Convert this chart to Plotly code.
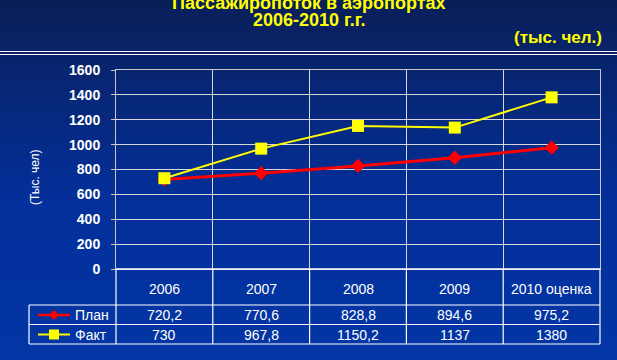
import plotly.graph_objects as go

categories = ["2006", "2007", "2008", "2009", "2010 оценка"]
plan = [720.2, 770.6, 828.8, 894.6, 975.2]
fact = [730, 967.8, 1150.2, 1137, 1380]
plan_labels = ["720,2", "770,6", "828,8", "894,6", "975,2"]
fact_labels = ["730", "967,8", "1150,2", "1137", "1380"]
series_names = ["План", "Факт"]
y_ticks = [0, 200, 400, 600, 800, 1000, 1200, 1400, 1600]

W, H = 617, 360
L, R, T, B = 116, 17, 70, 91
PW = W - L - R
PH = H - T - B


def px(X):
    return (X - L) / PW


def py(Y):
    return (H - B - Y) / PH


FONT = "Liberation Sans, Arial, sans-serif"
n = len(categories)
xs = [i + 0.5 for i in range(n)]

fig = go.Figure()
fig.add_trace(go.Scatter(x=xs, y=plan, mode="lines+markers", name=series_names[0],
                         line=dict(color="#ff0000", width=3),
                         marker=dict(symbol="diamond", size=11, color="#ff0000"),
                         cliponaxis=False, showlegend=False))
fig.add_trace(go.Scatter(x=xs, y=fact, mode="lines+markers", name=series_names[1],
                         line=dict(color="#ffff00", width=2),
                         marker=dict(symbol="square", size=12, color="#ffff00"),
                         cliponaxis=False, showlegend=False))

shapes = []
# background gradient
top = (10, 31, 88)
mid = (4, 48, 154)
bot = (3, 54, 166)
nb = 72
for k in range(nb):
    y0 = k * H / nb
    y1 = (k + 1) * H / nb + 0.5
    t = (k + 0.5) / nb
    if t < 0.55:
        f = t / 0.55
        c = tuple(int(top[j] + (mid[j] - top[j]) * f) for j in range(3))
    else:
        f = (t - 0.55) / 0.45
        c = tuple(int(mid[j] + (bot[j] - mid[j]) * f) for j in range(3))
    shapes.append(dict(type="rect", xref="paper", yref="paper", layer="below",
                       x0=px(0), x1=px(W), y0=py(y1), y1=py(y0),
                       line=dict(width=0), fillcolor="rgb(%d,%d,%d)" % c))

# double line under title
for Y in (51.5, 54.5):
    shapes.append(dict(type="line", xref="paper", yref="paper", x0=px(0), x1=px(W),
                       y0=py(Y), y1=py(Y), line=dict(color="white", width=1.2)))

# bottom axis line (white)
shapes.append(dict(type="line", xref="paper", yref="paper", x0=0, x1=1, y0=0, y1=0,
                   line=dict(color="white", width=1.5)))

# table
row_top, row_mid, row_bot = 305, 324.5, 344
leg_left = 29
for i in range(n + 1):
    shapes.append(dict(type="line", xref="paper", yref="paper", x0=i / n, x1=i / n,
                       y0=0, y1=py(row_bot), line=dict(color="white", width=1.2)))
shapes.append(dict(type="line", xref="paper", yref="paper", x0=px(leg_left), x1=px(leg_left),
                   y0=py(row_top), y1=py(row_bot), line=dict(color="white", width=1.2)))
for Y in (row_top, row_mid, row_bot):
    shapes.append(dict(type="line", xref="paper", yref="paper", x0=px(leg_left), x1=1,
                       y0=py(Y), y1=py(Y), line=dict(color="white", width=1.2)))

# legend keys
key_x0, key_x1, key_cx = 38, 70, 54
for Yc, col in ((315, "#ff0000"), (334.5, "#ffff00")):
    shapes.append(dict(type="line", xref="paper", yref="paper", x0=px(key_x0), x1=px(key_x1),
                       y0=py(Yc), y1=py(Yc), line=dict(color=col, width=2.5 if col == "#ff0000" else 2)))
d = 5
shapes.append(dict(type="path", xref="paper", yref="paper",
                   path="M %f %f L %f %f L %f %f L %f %f Z" % (
                       px(key_cx - d), py(315), px(key_cx), py(315 - d),
                       px(key_cx + d), py(315), px(key_cx), py(315 + d)),
                   fillcolor="#ff0000", line=dict(color="#ff0000", width=0)))
s = 5
shapes.append(dict(type="rect", xref="paper", yref="paper",
                   x0=px(key_cx - s), x1=px(key_cx + s), y0=py(334.5 + s), y1=py(334.5 - s),
                   fillcolor="#ffff00", line=dict(width=0)))

annotations = []
annotations.append(dict(text="<b>Пассажиропоток в аэропортах</b>", xref="paper", yref="paper",
                        x=px(309), y=py(3), showarrow=False, xanchor="center", yanchor="middle",
                        font=dict(family=FONT, size=18, color="#ffff00")))
annotations.append(dict(text="<b>2006-2010 г.г.</b>", xref="paper", yref="paper",
                        x=px(309), y=py(19.5), showarrow=False, xanchor="center", yanchor="middle",
                        font=dict(family=FONT, size=18, color="#ffff00")))
annotations.append(dict(text="<b>(тыс. чел.)</b>", xref="paper", yref="paper",
                        x=px(604), y=py(37.5), showarrow=False, xanchor="right", yanchor="middle",
                        font=dict(family=FONT, size=17, color="#ffff00")))
annotations.append(dict(text="(Тыс. чел)", xref="paper", yref="paper", textangle=-90,
                        x=px(35), y=py(177), showarrow=False, xanchor="center", yanchor="middle",
                        font=dict(family=FONT, size=12, color="white")))

for i, c in enumerate(categories):
    annotations.append(dict(text=c, xref="x", yref="paper", x=xs[i], y=py(288.5),
                            showarrow=False, xanchor="center", yanchor="middle",
                            font=dict(family=FONT, size=14, color="white")))
    annotations.append(dict(text=plan_labels[i], xref="x", yref="paper", x=xs[i], y=py(315),
                            showarrow=False, xanchor="center", yanchor="middle",
                            font=dict(family=FONT, size=14, color="white")))
    annotations.append(dict(text=fact_labels[i], xref="x", yref="paper", x=xs[i], y=py(334.5),
                            showarrow=False, xanchor="center", yanchor="middle",
                            font=dict(family=FONT, size=14, color="white")))
for nm, Yc in zip(series_names, (315, 334.5)):
    annotations.append(dict(text=nm, xref="paper", yref="paper", x=px(73), y=py(Yc),
                            showarrow=False, xanchor="left", yanchor="middle",
                            font=dict(family=FONT, size=14, color="white")))

fig.update_layout(
    width=W, height=H,
    margin=dict(l=L, r=R, t=T, b=B, pad=0),
    paper_bgcolor="rgb(4,44,140)",
    plot_bgcolor="rgba(0,0,0,0)",
    shapes=shapes,
    annotations=annotations,
    showlegend=False,
    xaxis=dict(range=[0, n], tickvals=list(range(n + 1)), showticklabels=False,
               showgrid=True, gridcolor="#d8d8d8", gridwidth=1, zeroline=False,
               showline=True, mirror=True, linecolor="#c8c8c8", linewidth=1,
               ticks="", fixedrange=True),
    yaxis=dict(range=[0, 1600], tickvals=y_ticks, ticktext=["<b>%d</b>" % v for v in y_ticks],
               showgrid=True, gridcolor="#d8d8d8", gridwidth=1, zeroline=False,
               showline=True, mirror=True, linecolor="#c8c8c8", linewidth=1,
               ticks="outside", ticklen=4, tickcolor="#c8c8c8", ticklabelstandoff=8,
               tickfont=dict(family=FONT, size=14, color="white"), fixedrange=True),
)

fig.write_html("out.html", config={"displayModeBar": False},
               post_script="document.body.style.margin='0';document.body.style.padding='0';"
                           "document.body.style.overflow='hidden';")
